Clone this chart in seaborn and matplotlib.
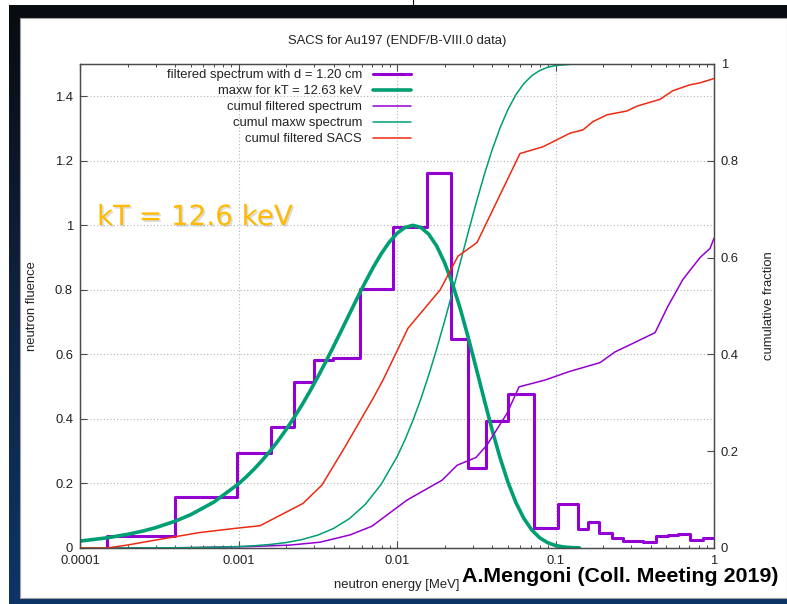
import matplotlib
matplotlib.use("Agg")
import numpy as np
import pandas as pd
import matplotlib.pyplot as plt
import matplotlib.patheffects as pe
from matplotlib.lines import Line2D
from matplotlib.patches import Rectangle
from matplotlib.ticker import FixedLocator, LogLocator, NullFormatter, FixedFormatter
import seaborn as sns

# ---- filtered neutron spectrum (histogram), energy in MeV ----
bin_edges = [1.48e-4, 3.98e-4, 9.74e-4, 1.60e-3, 2.25e-3, 3.00e-3, 3.96e-3,
             5.84e-3, 9.48e-3, 1.540e-2, 2.18e-2, 2.80e-2, 3.64e-2, 5.04e-2,
             7.32e-2, 0.1042, 0.1381, 0.1610, 0.1890, 0.2263, 0.2655, 0.358,
             0.4287, 0.5149, 0.5953, 0.7059, 0.8487, 1.0]
fluence = [0.038, 0.157, 0.294, 0.374, 0.516, 0.583, 0.588, 0.802, 0.995,
           1.162, 0.647, 0.247, 0.393, 0.478, 0.061, 0.135, 0.058, 0.082,
           0.046, 0.030, 0.022, 0.020, 0.037, 0.040, 0.042, 0.025, 0.031]

# ---- Maxwellian flux for kT = 12.63 keV (peak normalised) ----
maxw_energy = [1e-4, 1.5e-4, 2e-4, 2.5e-4, 3e-4, 4e-4, 5e-4, 7e-4,
               0.001, 0.001122, 0.001259, 0.001413, 0.001585, 0.001778,
               0.001995, 0.002239, 0.002512, 0.002818, 0.003162, 0.003548,
               0.003981, 0.004467, 0.005012, 0.005623, 0.006310, 0.007079,
               0.007943, 0.008913, 0.01, 0.01122, 0.01259, 0.01413, 0.01585,
               0.01778, 0.01995, 0.02239, 0.02512, 0.02818, 0.03162, 0.03548,
               0.03981, 0.04467, 0.05012, 0.05623, 0.06310, 0.07079, 0.07943,
               0.08913, 0.1, 0.1122, 0.1259, 0.1413]
maxw_fluence = [0.0214, 0.0319, 0.0424, 0.0527, 0.0630, 0.0834, 0.1034,
                0.1425, 0.1988, 0.2210, 0.2453, 0.2719, 0.3009, 0.3325,
                0.3667, 0.4036, 0.4431, 0.4853, 0.5299, 0.5766, 0.6252,
                0.6750, 0.7254, 0.7755, 0.8240, 0.8699, 0.9115, 0.9472,
                0.9751, 0.9933, 1.0000, 0.9935, 0.9726, 0.9363, 0.8847,
                0.8187, 0.7400, 0.6513, 0.5566, 0.4601, 0.3664, 0.2799,
                0.2040, 0.1410, 0.0919, 0.0561, 0.0317, 0.0165, 0.0078,
                0.0033, 0.0013, 0.0004]

# ---- cumulative fractions (right axis) ----
cumul_spec_energy = [1.5e-4, 3.54e-4, 1.18e-3, 2.11e-3, 3.27e-3, 5.05e-3,
                     6.95e-3, 1.156e-2, 1.923e-2, 2.395e-2, 3.15e-2, 3.70e-2,
                     4.94e-2, 5.89e-2, 8.59e-2, 0.1233, 0.191, 0.237, 0.318,
                     0.425, 0.513, 0.637, 0.816, 0.944, 1.0]
cumul_spec = [0.0, 0.0, 0.003, 0.006, 0.012, 0.027, 0.045, 0.099, 0.140,
              0.171, 0.187, 0.213, 0.278, 0.333, 0.347, 0.365, 0.383, 0.405,
              0.425, 0.445, 0.500, 0.555, 0.600, 0.619, 0.640]

cumul_maxw_energy = [1e-4, 3e-4, 5e-4, 7e-4, 0.001, 0.001259, 0.001585,
                     0.001995, 0.002512, 0.003162, 0.003981, 0.005012,
                     0.006310, 0.007943, 0.01, 0.01122, 0.01259, 0.01413,
                     0.01585, 0.01778, 0.01995, 0.02239, 0.02512, 0.02818,
                     0.03162, 0.03548, 0.03981, 0.04467, 0.05012, 0.05623,
                     0.06310, 0.07079, 0.07943, 0.08913, 0.1, 0.1259, 0.1585,
                     1.0]
cumul_maxw = [0.0, 0.0003, 0.0008, 0.0015, 0.0030, 0.0047, 0.0073, 0.0112,
              0.0174, 0.0266, 0.0404, 0.0607, 0.0901, 0.1315, 0.1883, 0.2233,
              0.2631, 0.3077, 0.3571, 0.4109, 0.4685, 0.5289, 0.5909, 0.6530,
              0.7134, 0.7705, 0.8224, 0.8679, 0.9060, 0.9365, 0.9594, 0.9757,
              0.9865, 0.9931, 0.9968, 0.9995, 1.0, 1.0]

cumul_sacs_energy = [1e-4, 1.48e-4, 1.98e-4, 3.20e-4, 5.71e-4, 9.78e-4,
                     1.366e-3, 2.55e-3, 3.36e-3, 4.70e-3, 7.06e-3, 8.16e-3,
                     1.173e-2, 1.868e-2, 2.426e-2, 3.197e-2, 5.97e-2, 8.34e-2,
                     0.1234, 0.1491, 0.1724, 0.2113, 0.2826, 0.3268, 0.4562,
                     0.5512, 0.7059, 0.816, 1.0]
cumul_sacs = [0.0, 0.0, 0.006, 0.018, 0.032, 0.041, 0.046, 0.092, 0.130,
              0.209, 0.309, 0.347, 0.454, 0.533, 0.603, 0.631, 0.815, 0.829,
              0.857, 0.864, 0.881, 0.895, 0.903, 0.913, 0.927, 0.945, 0.957,
              0.961, 0.970]

x_ticks = [1e-4, 1e-3, 1e-2, 1e-1, 1.0]
x_tick_labels = ["0.0001", "0.001", "0.01", "0.1", "1"]
y_ticks = [0, 0.2, 0.4, 0.6, 0.8, 1.0, 1.2, 1.4]
y_tick_labels = ["0", "0.2", "0.4", "0.6", "0.8", "1", "1.2", "1.4"]
y2_ticks = [0, 0.2, 0.4, 0.6, 0.8, 1.0]
y2_tick_labels = ["0", "0.2", "0.4", "0.6", "0.8", "1"]

series_labels = ["filtered spectrum with d = 1.20 cm", "maxw for kT = 12.63 keV",
                 "cumul filtered spectrum", "cumul maxw spectrum",
                 "cumul filtered SACS"]

PURPLE = "#9400D3"
GREEN = "#009E73"
RED = "#EE2A12"
FS = 9.4

sns.set_theme(style="white")
plt.rcParams["font.family"] = ["Liberation Sans", "DejaVu Sans"]

W, H = 787, 604
fig = plt.figure(figsize=(W / 100, H / 100), dpi=100, facecolor="white")


def fx(px):
    return px / W


def fy(py):
    return 1 - py / H


# ---- slide frame: dark gradient band on the left, top and bottom ----
bg = fig.add_axes([0, 0, 1, 1], zorder=-5)
bg.set_xlim(0, W)
bg.set_ylim(H, 0)
bg.axis("off")
grad = np.linspace(0, 1, 256).reshape(-1, 1)
cmap = matplotlib.colors.LinearSegmentedColormap.from_list(
    "frame", ["#080b10", "#10223f", "#0c3566"])
bg.imshow(grad, cmap=cmap, extent=[0, W, H, 0], aspect="auto")
bg.add_patch(Rectangle((0, 0), W, 5, facecolor="white", edgecolor="none"))
bg.add_patch(Rectangle((0, 0), 9, H, facecolor="white", edgecolor="none"))
bg.add_patch(Rectangle((20, 18), W - 20, 580, facecolor="white",
                       edgecolor="#a0a0a0", lw=0.8))
bg.plot([413, 413], [0, 5], color="black", lw=0.8)

# ---- main plot ----
ax = fig.add_axes([fx(80), 1 - 548 / H, (714 - 80) / W, (548 - 64) / H])
ax.set_facecolor("white")
ax.set_xscale("log")

hist_x = [bin_edges[0]] + bin_edges
hist_y = [0.0] + fluence + [fluence[-1]]
sns.lineplot(x=hist_x, y=hist_y, ax=ax, color=PURPLE, lw=2.2,
             drawstyle="steps-post", estimator=None, sort=False, legend=False)
sns.lineplot(x=maxw_energy, y=maxw_fluence, ax=ax, color=GREEN, lw=2.6,
             estimator=None, sort=False, legend=False)

ax.set_xlim(1e-4, 1.0)
ax.set_ylim(0, 1.5)
ax.xaxis.set_major_locator(FixedLocator(x_ticks))
ax.xaxis.set_major_formatter(FixedFormatter(x_tick_labels))
ax.xaxis.set_minor_locator(LogLocator(base=10, subs=np.arange(2, 10)))
ax.xaxis.set_minor_formatter(NullFormatter())
ax.yaxis.set_major_locator(FixedLocator(y_ticks))
ax.yaxis.set_major_formatter(FixedFormatter(y_tick_labels))
ax.grid(True, which="major", axis="both", color="#b4b4b4", lw=0.8,
        linestyle=(0, (1, 2)))
ax.set_axisbelow(True)
ax.set_xlabel("")
ax.set_ylabel("")

ax2 = ax.twinx()
sns.lineplot(x=cumul_spec_energy, y=cumul_spec, ax=ax2, color=PURPLE, lw=1.1,
             estimator=None, sort=False, legend=False)
sns.lineplot(x=cumul_maxw_energy, y=cumul_maxw, ax=ax2, color=GREEN, lw=1.1,
             estimator=None, sort=False, legend=False)
sns.lineplot(x=cumul_sacs_energy, y=cumul_sacs, ax=ax2, color=RED, lw=1.1,
             estimator=None, sort=False, legend=False)
ax2.set_ylim(0, 1.0)
ax2.set_xlim(1e-4, 1.0)
ax2.yaxis.set_major_locator(FixedLocator(y2_ticks))
ax2.yaxis.set_major_formatter(FixedFormatter(y2_tick_labels))
ax2.grid(False)
ax2.set_ylabel("")

for a in (ax, ax2):
    for s in a.spines.values():
        s.set_color("#4a4a4a")
        s.set_linewidth(0.9)
        s.set_visible(True)

tick_kw = dict(colors="#4a4a4a", labelcolor="#222222", labelsize=FS,
               direction="in", width=0.8)
ax.tick_params(axis="x", which="major", length=5, pad=5, top=True,
               bottom=True, **tick_kw)
ax.tick_params(axis="x", which="minor", length=2.5, top=True, bottom=True,
               direction="in", colors="#4a4a4a", width=0.7)
ax.tick_params(axis="y", which="major", length=5, pad=5, left=True,
               right=False, **tick_kw)
ax2.tick_params(axis="y", which="major", length=5, pad=5, right=True,
                left=False, **tick_kw)

# ---- legend (gnuplot style: text, then sample) ----
handles = [Line2D([], [], color=PURPLE, lw=2.2),
           Line2D([], [], color=GREEN, lw=2.6),
           Line2D([], [], color=PURPLE, lw=1.1),
           Line2D([], [], color=GREEN, lw=1.1),
           Line2D([], [], color=RED, lw=1.1)]
leg = ax2.legend(handles, series_labels, loc="upper right",
                 bbox_to_anchor=(fx(411), fy(69)), bbox_transform=fig.transFigure,
                 frameon=False, markerfirst=False, fontsize=FS, borderpad=0,
                 borderaxespad=0, handlelength=2.9, handletextpad=0.85,
                 labelspacing=0.3)
for t in leg.get_texts():
    t.set_color("#222222")

# ---- texts ----
fig.text(fx(397), fy(41), "SACS for Au197 (ENDF/B-VIII.0 data)", ha="center",
         va="center", fontsize=FS, color="#222222")
fig.text(fx(32), fy(306), "neutron fluence", rotation=90, ha="center",
         va="center", fontsize=FS, color="#222222")
fig.text(fx(769), fy(306), "cumulative fraction", rotation=90, ha="center",
         va="center", fontsize=FS, color="#222222")
fig.text(fx(397), fy(585), "neutron energy [MeV]", ha="center", va="center",
         fontsize=FS, color="#222222")
fig.text(fx(462), fy(577), "A.Mengoni (Coll. Meeting 2019)", ha="left",
         va="center", fontsize=15.4, fontweight="bold", color="black")
fig.text(fx(97), fy(225), "kT = 12.6 keV", ha="left", va="baseline",
         fontsize=20, color="#FFBA00", family="DejaVu Sans",
         path_effects=[pe.SimplePatchShadow(offset=(1.2, -1.2),
                                            shadow_rgbFace="#9a9a9a", alpha=0.35),
                       pe.Normal()])

fig.savefig("out.png", dpi=100, facecolor="white")
